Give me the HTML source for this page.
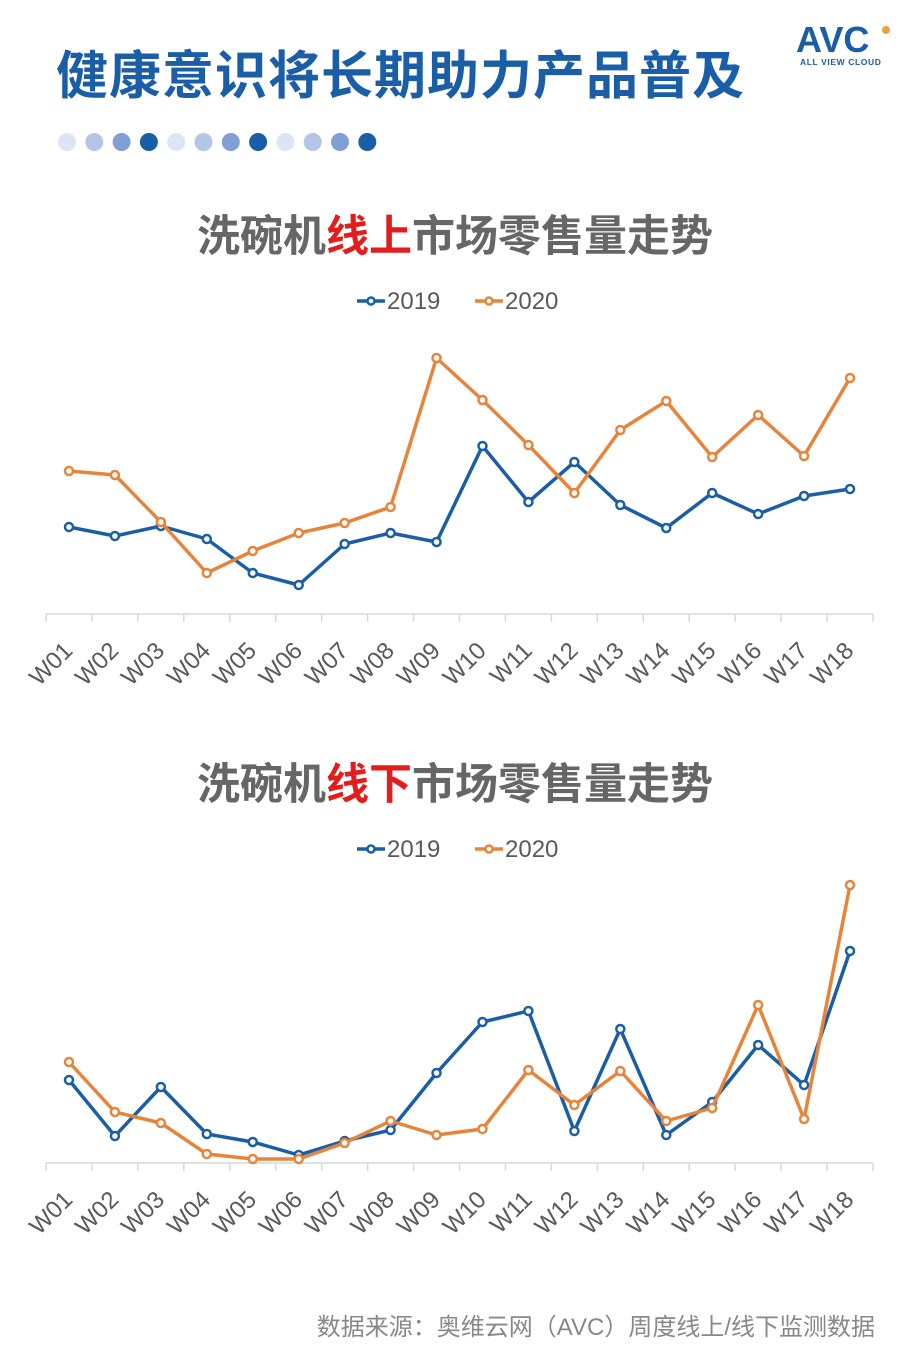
<!DOCTYPE html>
<html><head><meta charset="utf-8"><style>
body{margin:0;width:907px;height:1361px;background:#fff;overflow:hidden;font-family:"Liberation Sans","Noto Sans CJK SC",sans-serif;position:relative}
.t{position:absolute;white-space:nowrap}
</style></head><body>
<div class="t" style="left:56px;top:34px;font-size:52px;font-weight:bold;color:#1a5ea8;letter-spacing:1px">健康意识将长期助力产品普及</div>
<svg width="110" height="60" style="position:absolute;left:790px;top:14px">
<text x="6" y="38" font-family="Liberation Sans" font-weight="bold" font-size="36" fill="#1a5ea8">AVC</text>
<circle cx="96" cy="16" r="4" fill="#e8a040"/>
<text x="10" y="51" font-family="Liberation Sans" font-size="8.5" font-weight="bold" fill="#1a5ea8" letter-spacing="0.6">ALL VIEW CLOUD</text>
</svg>
<svg width="400" height="30" style="position:absolute;left:50px;top:127px" id="dots"></svg>
<div class="t" style="left:197px;top:202px;font-size:43px;font-weight:bold;color:#666">洗碗机<span style="color:#e31c1c">线上</span>市场零售量走势</div>
<div class="t" style="left:197px;top:750px;font-size:43px;font-weight:bold;color:#666">洗碗机<span style="color:#e31c1c">线下</span>市场零售量走势</div>
<svg id="c1" width="907" height="420" style="position:absolute;left:0;top:280px"></svg>
<svg id="c2" width="907" height="420" style="position:absolute;left:0;top:828px"></svg>
<div class="t" style="right:32px;top:1307px;font-size:24px;color:#888">数据来源：奥维云网（AVC）周度线上/线下监测数据</div>
<script>
const categories=["W01","W02","W03","W04","W05","W06","W07","W08","W09","W10","W11","W12","W13","W14","W15","W16","W17","W18"];
const online2019=[87,78,88,75,41,29,70,81,72,168,112,152,109,86,121,100,118,125];
const online2020=[143,139,92,41,63,81,91,107,256,214,169,121,184,213,157,199,158,236];
const offline2019=[83,27,76,29,21,8,22,33,90,141,152,32,134,28,61,118,78,212];
const offline2020=[101,51,40,9,4,4,20,42,28,34,93,58,92,42,55,158,44,278];
const seriesNames=["2019","2020"];
const colors=["#1a5ea8","#e8843a"];
const NS="http://www.w3.org/2000/svg";
function mk(p,tag,a){const e=document.createElementNS(NS,tag);for(const k in a)e.setAttribute(k,a[k]);p.appendChild(e);return e;}
const dots=document.getElementById('dots');
const dc=["#dbe5f4","#b3c6e7","#7f9fd6","#1a5ea8"];
for(let i=0;i<12;i++){const c=mk(dots,'circle',{cx:17+i*27.3,cy:15,r:9,fill:dc[i%4]});

}
function chart(svg,s1,s2,base){
  const x0=46,x1=873,step=(x1-x0)/categories.length;
  const xs=i=>x0+step*(i+0.5);
  const ys=v=>base-v;
  seriesNames.forEach((n,k)=>{const lx=357+k*118;
    const g=mk(svg,'g',{});
    
    
    mk(g,'line',{x1:lx,y1:21,x2:lx+28,y2:21,stroke:colors[k],'stroke-width':3.5});
    mk(g,'circle',{cx:lx+14,cy:21,r:3.5,fill:'#fff',stroke:colors[k],'stroke-width':2.5});
    const t=mk(g,'text',{x:lx+30,y:29,'font-size':24,fill:'#595959','font-family':'Liberation Sans'});t.textContent=n;});
  const ax=mk(svg,'line',{x1:x0,y1:base,x2:x1,y2:base,stroke:'#d9d9d9','stroke-width':1.5});
  
  
  for(let i=0;i<=categories.length;i++)mk(svg,'line',{x1:x0+step*i,y1:base,x2:x0+step*i,y2:base+8,stroke:'#d9d9d9','stroke-width':1.5});
  categories.forEach((c,i)=>{const t=mk(svg,'text',{x:xs(i)+5,y:base+38,'font-size':24,fill:'#595959','text-anchor':'end','font-family':'Liberation Sans',transform:`rotate(-45 ${xs(i)+5} ${base+38})`});
    
    
    t.textContent=c;});
  [s1,s2].forEach((s,k)=>{
    const p=mk(svg,'polyline',{points:s.map((v,i)=>xs(i)+','+ys(v)).join(' '),fill:'none',stroke:colors[k],'stroke-width':3.5,'stroke-linejoin':'round'});
    
    
    s.forEach((v,i)=>{const c=mk(svg,'circle',{cx:xs(i),cy:ys(v),r:4,fill:'#fff',stroke:colors[k],'stroke-width':2.5});
      
      });
  });
}
chart(document.getElementById('c1'),online2019,online2020,334);
chart(document.getElementById('c2'),offline2019,offline2020,335);
</script>
</body></html>
